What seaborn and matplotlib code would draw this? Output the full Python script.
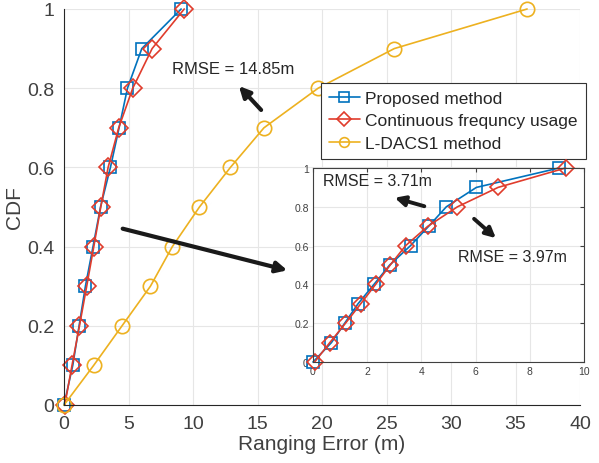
import numpy as np
import pandas as pd
import matplotlib
matplotlib.use('Agg')
import matplotlib.pyplot as plt
import seaborn as sns

# CDF levels
cdf = [0, 0.1, 0.2, 0.3, 0.4, 0.5, 0.6, 0.7, 0.8, 0.9, 1.0]
# erros (m)
err_proposto = [0, 0.68, 1.17, 1.66, 2.25, 2.83, 3.6, 4.27, 4.92, 6.03, 9.08]
err_continuo = [0.06, 0.62, 1.2, 1.76, 2.31, 2.85, 3.42, 4.24, 5.33, 6.83, 9.32]
err_ldacs = [0, 2.3, 4.5, 6.7, 8.4, 10.5, 12.9, 15.5, 19.7, 25.6, 35.9]

nomes = ['Proposed method', 'Continuous frequncy usage', 'L-DACS1 method']
cores = ['#0072BD', '#E03C2C', '#EDB120']
marcadores = ['s', 'D', 'o']
escala_mk = {'s': 1.0, 'D': 1.05, 'o': 1.15}

df = pd.concat([
    pd.DataFrame({'erro': err_proposto, 'cdf': cdf, 'metodo': nomes[0]}),
    pd.DataFrame({'erro': err_continuo, 'cdf': cdf, 'metodo': nomes[1]}),
    pd.DataFrame({'erro': err_ldacs, 'cdf': cdf, 'metodo': nomes[2]}),
])

sns.set_style('white')
plt.rcParams['font.family'] = ['Liberation Sans', 'DejaVu Sans']

fig = plt.figure(figsize=(5.99, 4.64), dpi=100)
W, H = 599, 464
ax = fig.add_axes([64 / W, 1 - 406 / H, (580 - 64) / W, (406 - 10) / H])

def desenha(ax, dados, ms, lw):
    for nome, cor, mk in zip(nomes, cores, marcadores):
        sub = dados[dados['metodo'] == nome]
        if len(sub) == 0:
            continue
        sns.lineplot(data=sub, x='erro', y='cdf', ax=ax, color=cor, marker=mk,
                     markersize=ms * escala_mk[mk],
                     markerfacecolor='none', markeredgecolor=cor,
                     markeredgewidth=1.2, linewidth=lw, label=nome,
                     sort=False, estimator=None, clip_on=False)

desenha(ax, df, 9, 1.2)

ax.set_xlim(0, 40)
ax.set_ylim(0, 1)
ax.set_xticks(np.arange(0, 41, 5))
ax.set_yticks([0, 0.2, 0.4, 0.6, 0.8, 1.0])
ax.set_yticklabels(['0', '0.2', '0.4', '0.6', '0.8', '1'])
ax.grid(True, color='#e6e6e6', linewidth=0.8)
ax.tick_params(direction='in', labelsize=14, labelcolor='#404040', color='#262626',
               length=4, pad=7)
for s in ['top', 'right']:
    ax.spines[s].set_visible(False)
for s in ['left', 'bottom']:
    ax.spines[s].set_color('#262626')
    ax.spines[s].set_linewidth(0.8)
ax.set_xlabel('Ranging Error (m)', fontsize=15, color='#404040')
ax.set_ylabel('CDF', fontsize=15, color='#404040')
ax.xaxis.labelpad = 2
ax.yaxis.labelpad = 2

leg = ax.legend(loc='upper left', bbox_to_anchor=(321 / W, 1 - 84 / H),
                bbox_transform=fig.transFigure, fontsize=12.5, frameon=True,
                fancybox=False, edgecolor='#333333', handlelength=1.8,
                borderpad=0.45, labelspacing=0.42, handletextpad=0.3,
                borderaxespad=0, framealpha=1)
leg.get_frame().set_linewidth(0.8)
for t in leg.get_texts():
    t.set_color('#262626')
for h in leg.legend_handles:
    h.set_markersize(7)

fig.text(172 / W, 1 - 70 / H, 'RMSE = 14.85m', fontsize=12, va='center', color='#262626')
seta = dict(arrowstyle='-|>', color='#1a1a1a', lw=3, mutation_scale=16)
ax.annotate('', xy=(237 / W, 1 - 85 / H), xytext=(263 / W, 1 - 113 / H),
            xycoords='figure fraction', textcoords='figure fraction', arrowprops=seta)
ax.annotate('', xy=(290 / W, 1 - 272 / H), xytext=(120 / W, 1 - 229 / H),
            xycoords='figure fraction', textcoords='figure fraction', arrowprops=seta)

# inset com zoom
ins = fig.add_axes([313 / W, 1 - 363 / H, (584 - 313) / W, (363 - 169) / H])
desenha(ins, df[df['metodo'] != nomes[2]], 8, 1.2)
ins.set_xlim(0, 10)
ins.set_ylim(0, 1)
ins.set_xticks(np.arange(0, 11, 2))
ins.set_yticks([0, 0.2, 0.4, 0.6, 0.8, 1.0])
ins.set_yticklabels(['0', '0.2', '0.4', '0.6', '0.8', '1'])
ins.set_xlabel('')
ins.set_ylabel('')
ins.grid(True, color='#e6e6e6', linewidth=0.8)
ins.tick_params(direction='in', labelsize=7.5, labelcolor='#404040', color='#404040',
                length=3, top=True, right=True, pad=3)
for s in ins.spines.values():
    s.set_color('#404040')
    s.set_linewidth(0.8)
ins.get_legend().remove()

fig.text(323 / W, 1 - 182 / H, 'RMSE = 3.71m', fontsize=11.5, va='center', color='#262626')
fig.text(458 / W, 1 - 258 / H, 'RMSE = 3.97m', fontsize=11.5, va='center', color='#262626')
seta2 = dict(arrowstyle='-|>', color='#1a1a1a', lw=2.8, mutation_scale=15)
ins.annotate('', xy=(392 / W, 1 - 198 / H), xytext=(427 / W, 1 - 208 / H),
             xycoords='figure fraction', textcoords='figure fraction', arrowprops=seta2)
ins.annotate('', xy=(498 / W, 1 - 241 / H), xytext=(472 / W, 1 - 218 / H),
             xycoords='figure fraction', textcoords='figure fraction', arrowprops=seta2)

fig.savefig('out.png', dpi=100)
